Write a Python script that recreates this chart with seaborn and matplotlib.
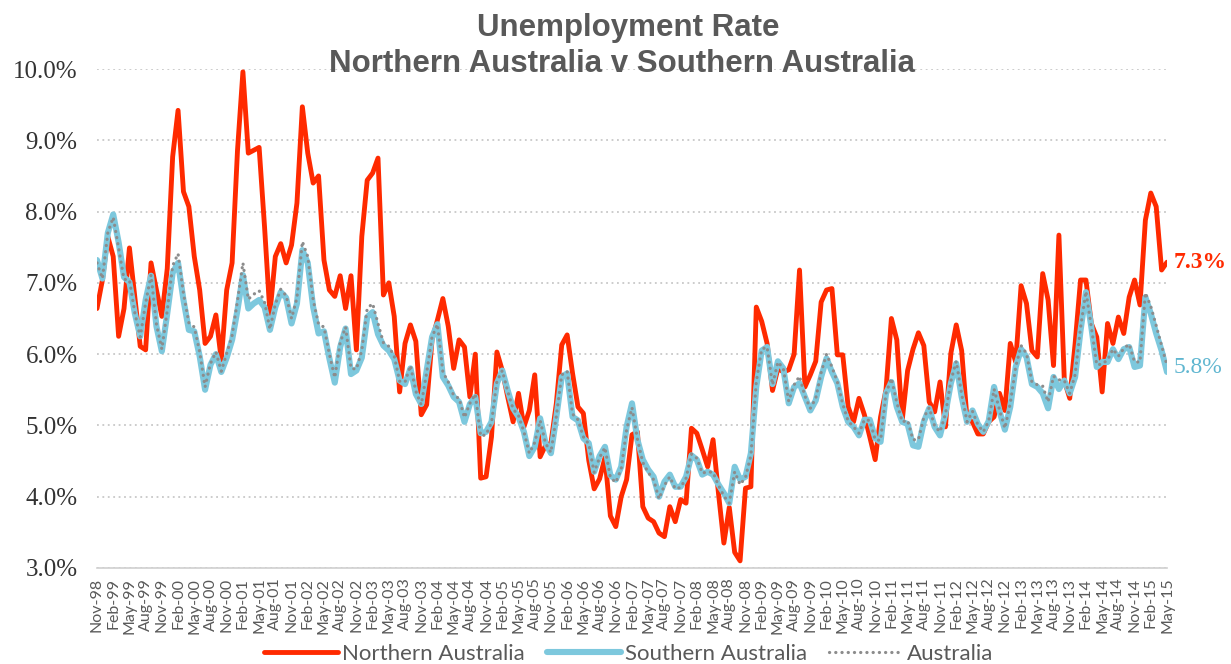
import matplotlib.pyplot as plt
import numpy as np
import pandas as pd
import seaborn as sns

# monthly values, Nov-98 .. May-15 (percent)
months = pd.date_range("1998-11-01", periods=199, freq="MS").strftime("%b-%y").tolist()

northern = [
    6.64, 7.04, 7.65, 7.37, 6.25, 6.64, 7.49, 6.80, 6.11, 6.06,
    7.28, 6.90, 6.53, 7.20, 8.77, 9.42, 8.28, 8.07, 7.37, 6.90,
    6.15, 6.25, 6.55, 5.92, 6.90, 7.28, 8.86, 9.96, 8.82, 8.86,
    8.90, 7.79, 6.57, 7.37, 7.55, 7.28, 7.53, 8.12, 9.47, 8.82,
    8.40, 8.50, 7.32, 6.90, 6.81, 7.10, 6.64, 7.10, 6.06, 7.65,
    8.44, 8.54, 8.75, 6.83, 7.00, 6.53, 5.47, 6.15, 6.41, 6.18,
    5.15, 5.29, 6.20, 6.48, 6.78, 6.39, 5.80, 6.20, 6.10, 5.40,
    6.00, 4.26, 4.28, 4.84, 6.03, 5.77, 5.40, 5.05, 5.45, 4.98,
    5.21, 5.71, 4.56, 4.72, 4.75, 5.31, 6.13, 6.27, 5.73, 5.26,
    5.17, 4.51, 4.11, 4.25, 4.55, 3.73, 3.58, 4.00, 4.24, 4.87,
    4.91, 3.86, 3.70, 3.65, 3.49, 3.44, 3.86, 3.65, 3.96, 3.91,
    4.96, 4.89, 4.66, 4.42, 4.80, 4.05, 3.35, 3.85, 3.22, 3.10,
    4.12, 4.14, 6.66, 6.46, 6.15, 5.49, 5.80, 5.75, 5.78, 6.00,
    7.18, 5.54, 5.71, 5.90, 6.73, 6.90, 6.92, 5.99, 5.99, 5.26,
    5.05, 5.38, 5.15, 4.84, 4.52, 5.12, 5.50, 6.50, 6.20, 5.07,
    5.77, 6.07, 6.30, 6.12, 5.33, 5.19, 5.61, 4.98, 6.01, 6.41,
    6.05, 5.09, 5.05, 4.88, 4.88, 5.05, 5.12, 5.45, 5.21, 6.15,
    5.89, 6.96, 6.71, 6.05, 5.96, 7.13, 6.76, 5.84, 7.67, 5.63,
    5.38, 6.15, 7.04, 7.04, 6.43, 6.24, 5.47, 6.43, 6.15, 6.52,
    6.29, 6.80, 7.04, 6.69, 7.88, 8.26, 8.07, 7.18, 7.29,
]

southern = [
    7.32, 7.06, 7.70, 7.96, 7.57, 7.08, 7.01, 6.57, 6.25, 6.76,
    7.10, 6.39, 6.04, 6.57, 7.14, 7.28, 6.76, 6.34, 6.32, 5.97,
    5.50, 5.85, 6.00, 5.75, 5.95, 6.20, 6.62, 7.11, 6.64, 6.71,
    6.76, 6.66, 6.34, 6.66, 6.87, 6.79, 6.43, 6.71, 7.46, 7.28,
    6.66, 6.29, 6.32, 5.94, 5.60, 6.10, 6.36, 5.72, 5.77, 5.95,
    6.52, 6.59, 6.28, 6.12, 6.05, 5.93, 5.63, 5.58, 5.80, 5.44,
    5.30, 5.77, 6.24, 6.42, 5.68, 5.56, 5.40, 5.33, 5.05, 5.30,
    5.40, 4.89, 4.91, 5.05, 5.59, 5.77, 5.49, 5.24, 5.12, 4.91,
    4.57, 4.70, 5.10, 4.75, 4.61, 5.12, 5.68, 5.73, 5.12, 5.07,
    4.82, 4.75, 4.35, 4.57, 4.70, 4.30, 4.24, 4.42, 4.98, 5.31,
    4.80, 4.52, 4.38, 4.28, 4.00, 4.21, 4.31, 4.14, 4.14, 4.28,
    4.58, 4.52, 4.31, 4.35, 4.31, 4.17, 4.05, 3.91, 4.42, 4.24,
    4.28, 4.61, 5.54, 6.05, 6.10, 5.58, 5.90, 5.80, 5.31, 5.54,
    5.59, 5.40, 5.21, 5.35, 5.68, 5.94, 5.75, 5.59, 5.26, 5.05,
    4.98, 4.86, 5.08, 5.08, 4.82, 4.77, 5.45, 5.61, 5.26, 5.05,
    5.02, 4.72, 4.70, 5.05, 5.24, 4.98, 4.86, 5.17, 5.59, 5.87,
    5.40, 5.05, 5.21, 5.02, 4.91, 5.06, 5.54, 5.20, 4.94, 5.26,
    5.82, 6.07, 5.96, 5.58, 5.54, 5.45, 5.24, 5.68, 5.51, 5.63,
    5.45, 5.68, 6.33, 6.87, 6.38, 5.82, 5.89, 5.89, 6.07, 5.93,
    6.07, 6.10, 5.82, 5.84, 6.80, 6.57, 6.29, 6.05, 5.75,
]

australia = [
    7.28, 7.06, 7.70, 7.92, 7.49, 7.05, 7.04, 6.58, 6.24, 6.72,
    7.11, 6.42, 6.07, 6.61, 7.24, 7.41, 6.85, 6.44, 6.38, 6.03,
    5.54, 5.87, 6.03, 5.76, 6.01, 6.26, 6.75, 7.28, 6.77, 6.84,
    6.89, 6.73, 6.35, 6.70, 6.91, 6.82, 6.50, 6.79, 7.58, 7.37,
    6.76, 6.42, 6.38, 6.00, 5.67, 6.16, 6.38, 5.80, 5.79, 6.05,
    6.64, 6.71, 6.43, 6.16, 6.11, 5.97, 5.62, 5.61, 5.84, 5.48,
    5.29, 5.74, 6.24, 6.42, 5.75, 5.61, 5.42, 5.38, 5.11, 5.31,
    5.44, 4.85, 4.87, 5.04, 5.62, 5.77, 5.48, 5.23, 5.14, 4.91,
    4.61, 4.76, 5.07, 4.75, 4.62, 5.13, 5.71, 5.76, 5.16, 5.08,
    4.84, 4.74, 4.34, 4.55, 4.69, 4.27, 4.20, 4.39, 4.94, 5.25,
    4.81, 4.48, 4.34, 4.24, 3.97, 4.16, 4.28, 4.11, 4.13, 4.26,
    4.60, 4.54, 4.33, 4.35, 4.34, 4.16, 4.01, 3.91, 4.35, 4.17,
    4.27, 4.58, 5.61, 6.07, 6.10, 5.57, 5.89, 5.80, 5.34, 5.57,
    5.69, 5.41, 5.24, 5.38, 5.74, 6.00, 5.82, 5.61, 5.30, 5.06,
    4.98, 4.89, 5.08, 5.07, 4.80, 4.79, 5.45, 5.66, 5.32, 5.05,
    5.07, 4.80, 4.80, 5.11, 5.25, 4.99, 4.91, 5.16, 5.62, 5.90,
    5.44, 5.05, 5.20, 5.01, 4.91, 5.06, 5.51, 5.22, 4.96, 5.31,
    5.82, 6.12, 6.01, 5.61, 5.57, 5.55, 5.33, 5.69, 5.64, 5.63,
    5.45, 5.71, 6.37, 6.88, 6.38, 5.85, 5.86, 5.92, 6.07, 5.97,
    6.08, 6.14, 5.89, 5.89, 6.86, 6.67, 6.40, 6.12, 5.84,
]

df = pd.DataFrame({
    "idx": np.arange(len(months)),
    "Northern Australia": northern,
    "Southern Australia": southern,
    "Australia": australia,
})

sns.set_style("white")
plt.rcParams['font.family'] = ['Lato', 'DejaVu Sans']

red = "#FF2A00"
blue = "#7DC8DD"
grey = "#8C8C8C"
txt = "#595959"

fig = plt.figure(figsize=(12.31, 6.64), dpi=100)
ax = fig.add_axes([97 / 1231, 1 - 568 / 664, (1167 - 97) / 1231, (568 - 69) / 664])

sns.lineplot(data=df, x="idx", y="Northern Australia", color=red, linewidth=3.5,
             ax=ax, label="Northern Australia")
sns.lineplot(data=df, x="idx", y="Southern Australia", color=blue, linewidth=4.4,
             ax=ax, label="Southern Australia")
sns.lineplot(data=df, x="idx", y="Australia", color=grey, linewidth=2.3,
             linestyle=(0, (0.05, 1.9)), ax=ax, label="Australia")
for ln in ax.get_lines():
    ln.set_solid_capstyle("round")
    ln.set_dash_capstyle("round")
    ln.set_solid_joinstyle("round")

ax.set_xlim(0, len(months) - 1)
ax.set_ylim(3, 10)
yt = np.arange(3, 10.5, 1)
ax.set_yticks(yt)
ax.set_yticklabels([f"{v:.1f}%" for v in yt], family="Liberation Serif",
                   fontsize=18, color="#333333")
ax.yaxis.grid(True, color="#C8C8C8", linestyle=(0, (1, 2)), linewidth=1.3)
ax.set_axisbelow(True)

xt = np.arange(0, len(months), 3)
ax.set_xticks(xt)
ax.set_xticklabels([months[i] for i in xt], rotation=90, fontsize=11.5, color=txt)
ax.tick_params(axis="x", length=5, color="#D0D0D0", width=1, pad=2, direction="out")
ax.tick_params(axis="y", length=0, pad=14)

for s in ["top", "right", "left"]:
    ax.spines[s].set_visible(False)
ax.spines["bottom"].set_color("#D0D0D0")
ax.spines["bottom"].set_linewidth(1.2)
ax.set_xlabel("")
ax.set_ylabel("")

# end labels
ax.annotate(f"{northern[-1]:.1f}%", (len(months) - 1, northern[-1]), xytext=(5, 0),
            textcoords="offset points", va="center", ha="left", color=red,
            family="Liberation Serif", fontweight="bold", fontsize=17,
            annotation_clip=False)
ax.annotate(f"{southern[-1]:.1f}%", (len(months) - 1, southern[-1]), xytext=(5, 3),
            textcoords="offset points", va="center", ha="left", color="#5FB6D0",
            family="Liberation Serif", fontsize=17, annotation_clip=False)

fig.text(628 / 1231, 1 - 28 / 664, "Unemployment Rate", ha="center", va="center",
         fontsize=22.5, fontweight="bold", color=txt, family="Liberation Sans")
fig.text(622 / 1231, 1 - 64 / 664, "Northern Australia v Southern Australia",
         ha="center", va="center", fontsize=22.5, fontweight="bold", color=txt,
         family="Liberation Sans")

leg = ax.legend(loc="center", bbox_to_anchor=(629 / 1231, 1 - 654 / 664),
                bbox_transform=fig.transFigure, ncol=3, frameon=False,
                fontsize=16, handlelength=3.3, handletextpad=0.2,
                columnspacing=1.0, labelcolor=txt)

fig.savefig("out.png", dpi=100)
